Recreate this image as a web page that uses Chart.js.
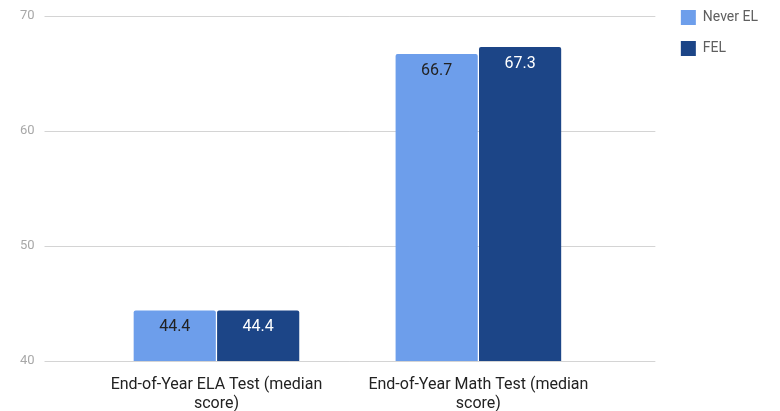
<!DOCTYPE html>
<html>
<head>
<meta charset="utf-8">
<script src="https://cdn.jsdelivr.net/npm/chart.js@4"></script>
<style>
  html, body { margin: 0; padding: 0; background: #fff; }
  #wrap { width: 780px; height: 411px; position: relative; }
</style>
</head>
<body>
<div id="wrap"><canvas id="chart"></canvas></div>
<script>
// chart values
var categories = [
    ["End-of-Year ELA Test (median", "score)"],
    ["End-of-Year Math Test (median", "score)"]
];
var seriesNames = ["Never EL", "FEL"];
var neverEL = [44.4, 66.7];
var fel = [44.4, 67.3];
var yTicks = [40, 50, 60, 70];

var colors = ["#6d9eeb", "#1c4587"];
var labelColors = ["#222222", "#ffffff"];

// gridlines in the reference run past the bars on both sides
var extendGrid = {
    id: "extendGrid",
    beforeDatasetsDraw: function(chart) {
        var ctx = chart.ctx, area = chart.chartArea, y = chart.scales.y;
        ctx.save();
        ctx.strokeStyle = "#d4d4d4";
        ctx.lineWidth = 1;
        y.ticks.forEach(function(t) {
            var py = Math.round(y.getPixelForValue(t.value)) + 0.5;
            ctx.beginPath();
            ctx.moveTo(area.left - 41, py);
            ctx.lineTo(area.right + 46, py);
            ctx.stroke();
        });
        ctx.restore();
    }
};

// value labels inside the top of each bar
var barLabels = {
    id: "barLabels",
    afterDatasetsDraw: function(chart) {
        var ctx = chart.ctx;
        ctx.save();
        ctx.font = "16px Roboto";
        ctx.textAlign = "center";
        ctx.textBaseline = "middle";
        chart.data.datasets.forEach(function(ds, i) {
            chart.getDatasetMeta(i).data.forEach(function(bar, j) {
                ctx.fillStyle = labelColors[i];
                ctx.fillText(ds.data[j].toFixed(1), bar.x, bar.y + 17);
            });
        });
        ctx.restore();
    }
};

new Chart(document.getElementById("chart"), {
    type: "bar",
    data: {
        labels: categories,
        datasets: [
            { label: seriesNames[0], data: neverEL, backgroundColor: colors[0], borderRadius: 2,
              barPercentage: 0.985, categoryPercentage: 0.637 },
            { label: seriesNames[1], data: fel, backgroundColor: colors[1], borderRadius: 2,
              barPercentage: 0.985, categoryPercentage: 0.637 }
        ]
    },
    options: {
        responsive: true,
        maintainAspectRatio: false,
        animation: false,
        layout: { padding: { left: 20, right: 12, top: -6, bottom: 0 } },
        plugins: {
            tooltip: { enabled: false },
            legend: {
                position: "right",
                align: "start",
                labels: {
                    boxWidth: 15,
                    boxHeight: 15,
                    padding: 16,
                    color: "#5f5f5f",
                    font: { family: "Roboto", size: 14 }
                }
            }
        },
        scales: {
            x: {
                grid: { display: false, drawTicks: false },
                border: { display: false },
                ticks: {
                    color: "#222222",
                    padding: 14,
                    font: { family: "Roboto", size: 16 },
                    maxRotation: 0,
                    autoSkip: false
                },
                afterFit: function(scale) { scale.height = 50; }
            },
            y: {
                min: 40,
                max: 70,
                grid: { display: false },
                border: { display: false },
                afterBuildTicks: function(scale) {
                    scale.ticks = yTicks.map(function(v) { return { value: v }; });
                },
                ticks: {
                    color: "#a8a8a8",
                    crossAlign: "far",
                    font: { family: "Roboto", size: 13 }
                },
                afterFit: function(scale) {
                    scale.width = 65.5;
                    scale.paddingTop = 16;
                }
            },
            y2: {
                position: "right",
                min: 40,
                max: 70,
                grid: { display: false },
                border: { display: false },
                ticks: { display: false },
                afterFit: function(scale) { scale.width = 55.5; }
            }
        }
    },
    plugins: [extendGrid, barLabels]
});
</script>
</body>
</html>
